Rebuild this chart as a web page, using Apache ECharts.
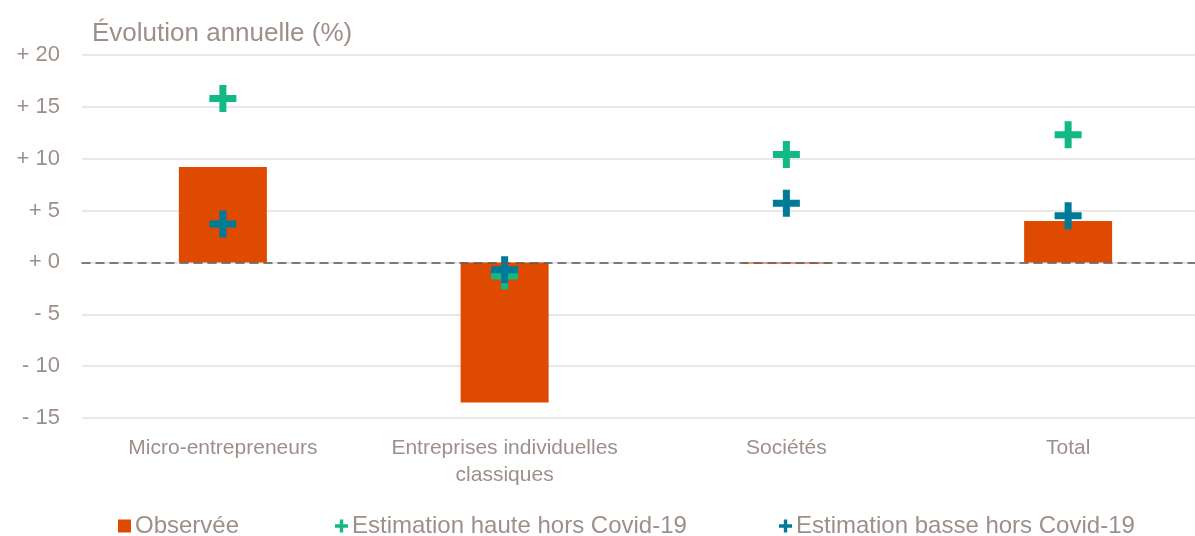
<!DOCTYPE html>
<html>
<head>
<meta charset="utf-8">
<script src="https://cdn.jsdelivr.net/npm/echarts@6/dist/echarts.min.js"></script>
<style>
html,body{margin:0;padding:0;background:#fff;overflow:hidden;}
#chart{width:1209px;height:536px;}
</style>
</head>
<body>
<div id="chart"></div>
<script>
const categories = ['Micro-entrepreneurs', 'Entreprises individuelles\nclassiques', 'Sociétés', 'Total'];
const observee = [9.2, -13.5, -0.1, 4.0];
const estimHaute = [15.8, -1.3, 10.4, 12.3];
const estimBasse = [3.7, -0.7, 5.7, 4.5];
const yTicks = { min: -15, max: 20, interval: 5 };
const seriesNames = ['Observée', 'Estimation haute hors Covid-19', 'Estimation basse hors Covid-19'];

const textColor = '#9D8F8A';
const orange = '#DD4A00';
const green = '#12B886';
const blue = '#007A99';
const plus = 'path://M10,0h7v10h10v7h-10v10h-7v-10h-10v-7h10z';
const font = 'Liberation Sans, Arial, sans-serif';

const chart = echarts.init(document.getElementById('chart'), null, {renderer: 'canvas'});
const legendBase = {
  top: 509, itemWidth: 13, itemHeight: 13, itemGap: 5,
  textStyle: {color: textColor, fontSize: 24, fontFamily: font, padding: [0,0,0,-1]},
  selectedMode: false
};
chart.setOption({
  animation: false,
  title: {
    text: 'Évolution annuelle (%)', left: 87, top: 16,
    textStyle: {color: textColor, fontSize: 26, fontWeight: 'normal', fontFamily: font}
  },
  legend: [
    Object.assign({}, legendBase, {left: 113, data: [{name: seriesNames[0], icon: 'rect'}]}),
    Object.assign({}, legendBase, {left: 330, data: [{name: seriesNames[1], icon: plus}]}),
    Object.assign({}, legendBase, {left: 774, data: [{name: seriesNames[2], icon: plus}]})
  ],
  grid: {left: 82, right: 0, top: 55, bottom: 118, containLabel: false},
  xAxis: {
    type: 'category', data: categories,
    axisTick: {show: false},
    axisLine: {show: true, onZero: true, lineStyle: {color: '#5E5757', width: 1.5, type: [8, 6]}},
    axisLabel: {color: textColor, fontSize: 21, fontFamily: font, margin: 17, lineHeight: 27, interval: 0},
    z: 10
  },
  yAxis: {
    type: 'value', min: yTicks.min, max: yTicks.max, interval: yTicks.interval,
    axisLine: {show: false}, axisTick: {show: false},
    splitLine: {lineStyle: {color: '#E6DFDF', width: 1.5}},
    axisLabel: {
      color: textColor, fontSize: 22, fontFamily: font, margin: 22,
      formatter: v => (v >= 0 ? '+ ' : '- ') + Math.abs(v)
    }
  },
  series: [
    {name: seriesNames[0], type: 'bar', data: observee, barWidth: 88, itemStyle: {color: orange}, z: 2},
    {name: seriesNames[1], type: 'scatter', data: estimHaute, symbol: plus, symbolSize: 27, itemStyle: {color: green, opacity: 1}, z: 3},
    {name: seriesNames[2], type: 'scatter', data: estimBasse, symbol: plus, symbolSize: 27, itemStyle: {color: blue, opacity: 1}, z: 4}
  ]
});
</script>
</body>
</html>
